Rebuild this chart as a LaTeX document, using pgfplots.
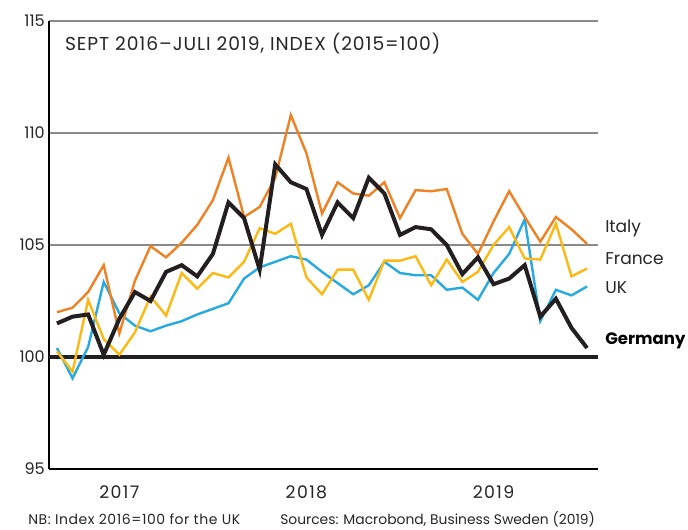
\documentclass[border=0pt]{standalone}
\usepackage{fontspec}
\setmainfont{Poppins}
\usepackage{pgfplots}
\usepackage{pgfplotstable}
\pgfplotsset{compat=1.18}
\definecolor{italy}{HTML}{F08122}
\definecolor{france}{HTML}{FDB913}
\definecolor{uk}{HTML}{27AAE1}
\definecolor{ger}{HTML}{231F20}
\definecolor{gridgray}{HTML}{8A8A8A}
\pgfplotstableread{
i ger ita fra uk
0 101.5 102.0 100.25 100.4
1 101.8 102.2 99.35 99.05
2 101.9 102.9 102.55 100.45
3 100.1 104.1 100.8 103.35
4 101.7 101.05 100.1 101.95
5 102.9 103.4 101.1 101.4
6 102.5 104.95 102.7 101.15
7 103.8 104.45 101.85 101.4
8 104.1 105.1 103.75 101.6
9 103.6 105.9 103.05 101.9
10 104.6 107.0 103.75 102.15
11 106.9 108.9 103.55 102.4
12 106.2 106.25 104.25 103.5
13 103.9 106.7 105.75 104.0
14 108.6 108.0 105.5 104.25
15 107.8 110.8 105.95 104.5
16 107.5 109.1 103.55 104.35
17 105.45 106.4 102.8 103.8
18 106.9 107.8 103.9 103.3
19 106.2 107.3 103.9 102.8
20 108.0 107.2 102.55 103.2
21 107.3 107.8 104.3 104.25
22 105.45 106.2 104.3 103.75
23 105.8 107.45 104.5 103.65
24 105.7 107.4 103.2 103.65
25 105.0 107.5 104.35 103.0
26 103.7 105.5 103.35 103.1
27 104.45 104.6 103.8 102.55
28 103.25 106.05 105.0 103.75
29 103.5 107.4 105.8 104.6
30 104.1 106.25 104.4 106.15
31 101.8 105.15 104.35 101.6
32 102.6 106.25 105.95 103.0
33 101.3 105.7 103.6 102.75
34 100.4 105.05 103.95 103.15
}\datatable
\begin{document}
\begin{tikzpicture}
\path[use as bounding box] (0pt,0pt) rectangle (516pt,396.75pt);
\begin{axis}[
  at={(36.75pt,45pt)}, anchor=south west,
  scale only axis, width=411.75pt, height=336pt,
  xmin=-0.51, xmax=34.7, ymin=95, ymax=115,
  axis x line*=bottom, axis y line*=left,
  axis line style={-, black, line width=1.1pt},
  ytick={95,100,105,110,115},
  xtick={4,16,28}, xticklabels={2017,2018,2019},
  major tick length=0pt,
  ymajorgrids, grid style={gridgray, line width=1.5pt},
  /pgf/number format/assume math mode=true,
  tick label style={font=\fontsize{12}{14}\selectfont, text=black!85},
  yticklabel style={inner sep=0pt, xshift=-3pt},
  xticklabel style={anchor=center, inner sep=0pt, yshift=-17.5pt, font=\fontsize{13}{15}\selectfont\addfontfeature{LetterSpace=8}},
  clip=false,
  every axis plot/.append style={line join=miter, miter limit=10},
]
\draw[ger, line width=2.3pt] (axis cs:-0.51,100) -- (axis cs:34.7,100);
\addplot[uk, line width=1.8pt] table[x=i, y=uk] {\datatable};
\addplot[france, line width=1.8pt] table[x=i, y=fra] {\datatable};
\addplot[italy, line width=1.8pt] table[x=i, y=ita] {\datatable};
\addplot[ger, line width=3pt] table[x=i, y=ger] {\datatable};
\node[anchor=west, inner sep=0pt, font=\fontsize{14}{16}\selectfont\addfontfeature{LetterSpace=5}, text=black!85] at (axis cs:0.5,114.0) {SEPT 2016–JULI 2019, INDEX (2015=100)};
\node[anchor=west, inner sep=0pt, font=\fontsize{12.8}{14}\selectfont, text=black!85] at (axis cs:35.15,105.76) {Italy};
\node[anchor=west, inner sep=0pt, font=\fontsize{12.8}{14}\selectfont, text=black!85] at (axis cs:35.15,104.38) {France};
\node[anchor=west, inner sep=0pt, font=\fontsize{12.8}{14}\selectfont, text=black!85] at (axis cs:35.15,103.08) {UK};
\node[anchor=west, inner sep=0pt, font=\bfseries\fontsize{12.4}{14}\selectfont] at (axis cs:35.15,100.71) {Germany};
\end{axis}
\node[anchor=west, inner sep=0pt, font=\fontsize{10.5}{12}\selectfont\addfontfeature{LetterSpace=4}, text=black!85] at (21pt,7.6pt) {NB: Index 2016=100 for the UK};
\node[anchor=west, inner sep=0pt, font=\fontsize{10.4}{12}\selectfont, text=black!85] at (210pt,7.6pt) {Sources: Macrobond, Business Sweden (2019)};
\end{tikzpicture}
\end{document}
